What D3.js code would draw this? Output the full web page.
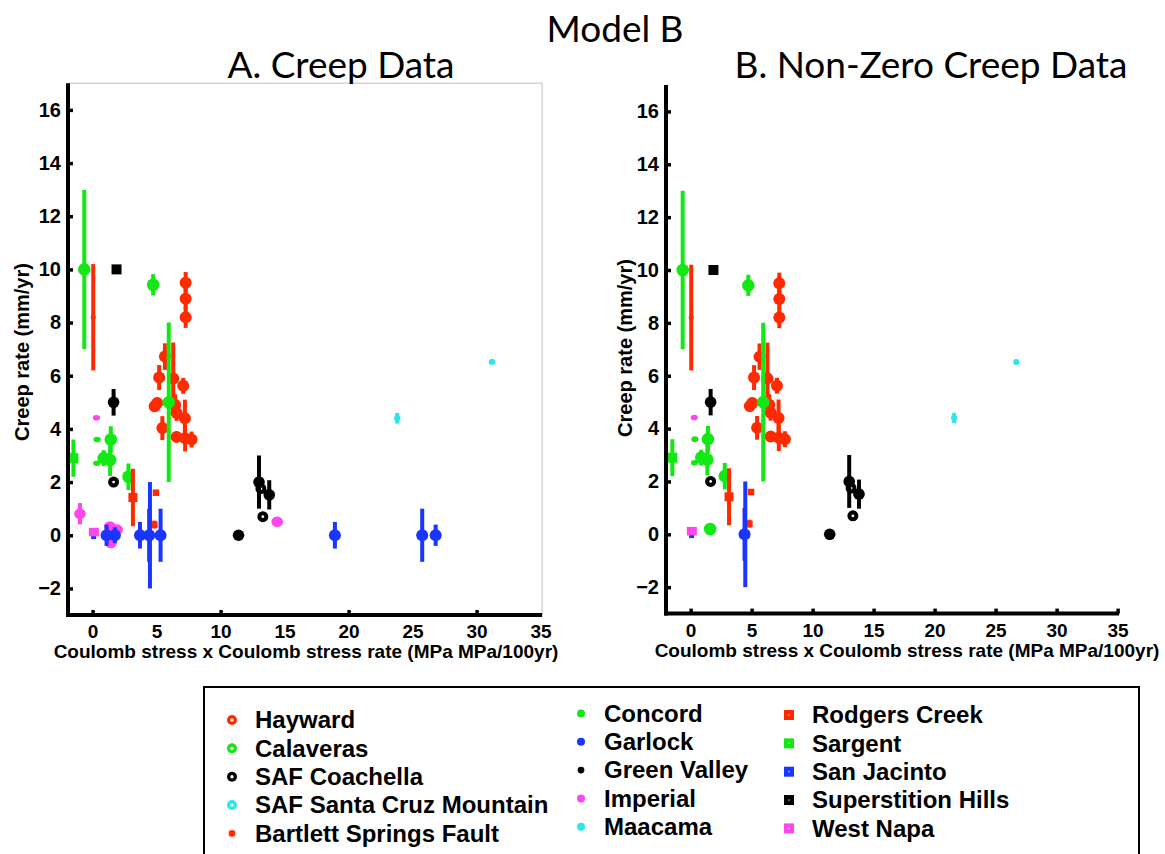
<!DOCTYPE html>
<html>
<head>
<meta charset="utf-8">
<script src="https://cdn.jsdelivr.net/npm/d3@7"></script>
<style>
  body { margin: 0; background: #fff; }
  svg text { font-family: "Liberation Sans", Arial, sans-serif; }
</style>
</head>
<body>
<svg id="chart" width="1165" height="854"></svg>
<script>
// ---- data: each entry is [coulomb stress x rate, creep rate (mm/yr), ± error] ----
const hayward = [
  [7.27, 9.5, 0.4], [7.27, 8.9, 0.4], [7.27, 8.2, 0.4],
  [5.65, 6.72, 0.5], [6.3, 5.9, 1.35], [5.2, 5.93, 0.47], [7.08, 5.62, 0.3],
  [4.85, 4.85, 0.2], [5.05, 4.97, 0.2], [6.45, 4.9, 0.4], [6.56, 4.6, 0.3],
  [7.21, 4.4, 0.7], [5.45, 4.03, 0.45], [6.56, 3.7, 0.2], [7.23, 3.65, 0.5], [7.73, 3.6, 0.3]
];
const calaveras = [
  [-0.65, 10.0, 3.0], [4.73, 9.42, 0.4], [5.95, 5.0, 3.0], [1.42, 3.6, 0.5],
  [0.87, 2.9, 0.3], [1.37, 2.83, 0.6], [2.8, 2.2, 0.5], [1.6, 0.2, 0]
];
const coachella = [[1.64, 2.0, 0], [13.15, 1.75, 0], [13.3, 0.7, 0]];
const bartlett = [[0.05, 8.2, 2.0]];
const concord = [[0.35, 3.6, 0], [0.32, 2.71, 0]];
const garlockA = [
  [1.09, 0, 0.4], [1.74, 0, 0.3], [3.7, 0, 0.5], [4.42, 0, 1.0], [5.31, 0, 1.0],
  [18.93, 0, 0.5], [25.75, 0, 1.0], [26.8, 0, 0.4]
];
const garlockB = [[4.42, 0, 1.0]];
const greenValley = [[1.64, 5.0, 0.5], [13.0, 2.0, 1.0], [13.8, 1.52, 0.55], [11.4, 0, 0]];
const imperialMinor = [[0.3, 4.42, 0]];
const imperialA = [[-0.99, 0.81, 0.4], [1.35, 0.33, 0], [1.43, -0.29, 0], [1.92, 0.21, 0], [14.42, 0.51, 0]];
const maacamaA = [[23.8, 4.4, 0.2], [31.2, 6.52, 0.1]];
const maacamaB = [[21.6, 4.4, 0.2], [26.7, 6.52, 0.1]];
const rodgersCreek = [[3.15, 1.42, 1.08]];
const rodgersMinor = [[4.95, 1.6, 0], [4.82, 0.4, 0.15]];
const sargent = [[-1.5, 2.9, 0.7]];
const sanJacintoMinor = [[0.08, -0.05, 0]];
const sanJacinto = [[4.48, 0, 2.0]];
const superstition = [[1.87, 10.0, 0]];
const westNapa = [[0.1, 0.12, 0]];

const xTickValues = [0, 5, 10, 15, 20, 25, 30, 35];
const yTickValues = [-2, 0, 2, 4, 6, 8, 10, 12, 14, 16];

const legendColumns = [
  ["Hayward", "Calaveras", "SAF Coachella", "SAF Santa Cruz Mountain", "Bartlett Springs Fault"],
  ["Concord", "Garlock", "Green Valley", "Imperial", "Maacama"],
  ["Rodgers Creek", "Sargent", "San Jacinto", "Superstition Hills", "West Napa"]
];

// ---- styles ----
const RED = "#ff2a00", GREEN = "#14e814", BLACK = "#000000",
      CYAN = "#2ae8ea", BLUE = "#1a35ff", MAGENTA = "#ff45ee";

const styles = {
  hayward:         { color: RED,     shape: "ring",   r: 6 },
  calaveras:       { color: GREEN,   shape: "ring",   r: 6.3 },
  coachella:       { color: BLACK,   shape: "ring",   r: 5.5, hole: true },
  bartlett:        { color: RED,     shape: "dot",    rx: 2.5, ry: 2.5 },
  concord:         { color: GREEN,   shape: "dot",    rx: 3.6, ry: 2.8 },
  garlock:         { color: BLUE,    shape: "dot",    rx: 6, ry: 6 },
  greenValley:     { color: BLACK,   shape: "dot",    rx: 5.8, ry: 5.8 },
  imperialMinor:   { color: MAGENTA, shape: "dot",    rx: 3.6, ry: 2.8 },
  imperial:        { color: MAGENTA, shape: "dot",    rx: 5.8, ry: 5.3 },
  maacama:         { color: CYAN,    shape: "dot",    rx: 3.2, ry: 2.8 },
  rodgersCreek:    { color: RED,     shape: "square", w: 9, h: 9 },
  rodgersMinor:    { color: RED,     shape: "square", w: 6.5, h: 6.5 },
  sargent:         { color: GREEN,   shape: "square", w: 10, h: 10 },
  sanJacinto:      { color: BLUE,    shape: "square", w: 8, h: 8 },
  sanJacintoMinor: { color: BLUE,    shape: "square", w: 5, h: 5 },
  superstition:    { color: BLACK,   shape: "square", w: 10, h: 10 },
  westNapa:        { color: MAGENTA, shape: "square", w: 10, h: 8.5 }
};

const legendMarkers = {
  "Hayward": ["ring", RED], "Calaveras": ["ring", GREEN], "SAF Coachella": ["ring", BLACK],
  "SAF Santa Cruz Mountain": ["ring", CYAN], "Bartlett Springs Fault": ["smalldot", RED],
  "Concord": ["dot", GREEN], "Garlock": ["dot", BLUE], "Green Valley": ["smalldot", BLACK],
  "Imperial": ["dot", MAGENTA], "Maacama": ["dot", CYAN],
  "Rodgers Creek": ["square", RED], "Sargent": ["square", GREEN], "San Jacinto": ["square", BLUE],
  "Superstition Hills": ["square", BLACK], "West Napa": ["square", MAGENTA]
};

const svg = d3.select("#chart");

function drawSeries(g, x, y, data, st) {
  const s = g.append("g");
  s.selectAll("line.err").data(data.filter(d => d[2] > 0)).join("line")
    .attr("x1", d => x(d[0])).attr("x2", d => x(d[0]))
    .attr("y1", d => y(d[1] + d[2])).attr("y2", d => y(d[1] - d[2]))
    .attr("stroke", st.color).attr("stroke-width", 4);
  if (st.shape === "ring") {
    s.selectAll("circle.m").data(data).join("circle")
      .attr("cx", d => x(d[0])).attr("cy", d => y(d[1])).attr("r", st.r).attr("fill", st.color);
    if (st.hole) {
      s.selectAll("circle.h").data(data.filter(d => !(d[2] > 0))).join("circle")
        .attr("cx", d => x(d[0])).attr("cy", d => y(d[1])).attr("r", 1.4).attr("fill", "#fff");
    }
  } else if (st.shape === "dot") {
    s.selectAll("ellipse").data(data).join("ellipse")
      .attr("cx", d => x(d[0])).attr("cy", d => y(d[1]))
      .attr("rx", st.rx).attr("ry", st.ry).attr("fill", st.color);
  } else {
    s.selectAll("rect").data(data).join("rect")
      .attr("x", d => x(d[0]) - st.w / 2).attr("y", d => y(d[1]) - st.h / 2)
      .attr("width", st.w).attr("height", st.h).attr("fill", st.color);
  }
}

function drawPanel(cfg) {
  const x = d3.scaleLinear().domain(cfg.xDomain).range(cfg.xRange);
  const y = d3.scaleLinear().domain([-3, 17]).range(cfg.yRange);
  const g = svg.append("g");
  const x0 = cfg.xRange[0] + 1, yb = cfg.yRange[0];

  if (cfg.frame) {
    g.append("path")
      .attr("d", `M${x0},${cfg.yRange[1]}H${cfg.xRange[1] + 1.5}V${yb}`)
      .attr("fill", "none").attr("stroke", "#d4d4d4").attr("stroke-width", 1.5);
  }

  // series
  cfg.series.forEach(([data, key]) => drawSeries(g, x, y, data, styles[key]));

  // y axis
  const ya = g.append("g").attr("transform", `translate(${x0},0)`)
    .call(d3.axisLeft(y).tickValues(yTickValues).tickSize(-5).tickSizeOuter(0).tickPadding(7)
      .tickFormat(d => d < 0 ? "\u2212" + Math.abs(d) : d));
  ya.select(".domain").remove();
  ya.selectAll(".tick line").attr("stroke", "#000").attr("stroke-width", 3.5);
  ya.selectAll(".tick text").attr("font-size", 20).attr("font-weight", "bold")
    .attr("fill", "#000").attr("font-family", "Liberation Sans, Arial, sans-serif");

  // x axis
  const xa = g.append("g").attr("transform", `translate(0,${yb})`)
    .call(d3.axisBottom(x).tickValues(xTickValues).tickSize(-5).tickSizeOuter(0).tickPadding(cfg.xPad));
  xa.select(".domain").remove();
  xa.selectAll(".tick line").attr("stroke", "#000").attr("stroke-width", 3.5)
    .attr("display", d => cfg.xTickLines.includes(d) ? null : "none");
  xa.selectAll(".tick text").attr("font-size", 19).attr("font-weight", "bold")
    .attr("fill", "#000").attr("font-family", "Liberation Sans, Arial, sans-serif");

  // axis lines
  g.append("line").attr("x1", x0).attr("x2", x0).attr("y1", cfg.yRange[1]).attr("y2", yb + 2)
    .attr("stroke", "#000").attr("stroke-width", 4);
  g.append("line").attr("x1", x0 - 2).attr("x2", cfg.xRange[1] + 1.5).attr("y1", yb).attr("y2", yb)
    .attr("stroke", "#000").attr("stroke-width", 4);

  // axis titles
  g.append("text").attr("x", cfg.xTitleX).attr("y", cfg.xTitleY).attr("text-anchor", "middle")
    .attr("font-size", 19).attr("font-weight", "bold")
    .text("Coulomb stress x Coulomb stress rate (MPa MPa/100yr)");
  g.append("text").attr("transform", `translate(${cfg.yTitleX},${cfg.yTitleY}) rotate(-90)`)
    .attr("text-anchor", "middle").attr("font-size", 20).attr("font-weight", "bold")
    .text("Creep rate (mm/yr)");
}

drawPanel({
  xDomain: [-2, 35], xRange: [67, 540.6], yRange: [615, 83.3], frame: true,
  xTickLines: [0, 10, 20, 30], xPad: 9.5,
  xTitleX: 306, xTitleY: 658, yTitleX: 29, yTitleY: 352,
  series: [
    [hayward, "hayward"], [calaveras, "calaveras"], [coachella, "coachella"],
    [bartlett, "bartlett"], [concord, "concord"], [greenValley, "greenValley"],
    [imperialMinor, "imperialMinor"], [imperialA, "imperial"], [garlockA, "garlock"],
    [maacamaA, "maacama"], [rodgersCreek, "rodgersCreek"], [rodgersMinor, "rodgersMinor"],
    [sargent, "sargent"], [sanJacintoMinor, "sanJacintoMinor"], [sanJacinto, "sanJacinto"],
    [superstition, "superstition"], [westNapa, "westNapa"]
  ]
});

drawPanel({
  xDomain: [-2.1, 35], xRange: [665, 1117.6], yRange: [613.6, 85], frame: false,
  xTickLines: xTickValues, xPad: 10,
  xTitleX: 907, xTitleY: 657, yTitleX: 632, yTitleY: 348,
  series: [
    [hayward, "hayward"], [calaveras, "calaveras"], [coachella, "coachella"],
    [bartlett, "bartlett"], [concord, "concord"], [greenValley, "greenValley"],
    [imperialMinor, "imperialMinor"], [garlockB, "garlock"],
    [maacamaB, "maacama"], [rodgersCreek, "rodgersCreek"], [rodgersMinor, "rodgersMinor"],
    [sargent, "sargent"], [sanJacintoMinor, "sanJacintoMinor"], [sanJacinto, "sanJacinto"],
    [superstition, "superstition"], [westNapa, "westNapa"]
  ]
});

// titles, sized to their set widths
function fitTitle(text, cx, baseline, width) {
  const t = svg.append("text").attr("x", cx).attr("y", baseline).attr("text-anchor", "middle")
    .attr("font-size", 40).attr("fill", "#000")
    .style("font-family", "Lato, 'Open Sans', sans-serif").text(text);
  const w = t.node().getComputedTextLength();
  t.attr("font-size", 40 * width / w);
}
fitTitle("Model B", 615, 42, 137);
fitTitle("A. Creep Data", 341, 78, 227);
fitTitle("B. Non-Zero Creep Data", 931, 78, 393);

// legend
const lg = svg.append("g");
lg.append("rect").attr("x", 204).attr("y", 687).attr("width", 935).attr("height", 220)
  .attr("fill", "#fff").attr("stroke", "#000").attr("stroke-width", 2);
const colMarkerX = [232, 581, 789], colTextX = [255, 604, 812], colBase = [728.3, 721.7, 723.3];
legendColumns.forEach((col, ci) => {
  col.forEach((label, ri) => {
    const by = colBase[ci] + ri * 28.35, my = by - 8.3, mx = colMarkerX[ci];
    const [shape, color] = legendMarkers[label];
    if (shape === "ring") {
      lg.append("circle").attr("cx", mx).attr("cy", my).attr("r", 5).attr("fill", color);
      lg.append("circle").attr("cx", mx).attr("cy", my).attr("r", 1.7).attr("fill", "#fff");
    } else if (shape === "dot") {
      lg.append("circle").attr("cx", mx).attr("cy", my).attr("r", 4).attr("fill", color);
    } else if (shape === "smalldot") {
      lg.append("circle").attr("cx", mx).attr("cy", my).attr("r", 3.4).attr("fill", color);
    } else {
      lg.append("rect").attr("x", mx - 5).attr("y", my - 5).attr("width", 10).attr("height", 10).attr("fill", color);
      lg.append("rect").attr("x", mx - 0.6).attr("y", my - 0.6).attr("width", 1.2).attr("height", 1.2).attr("fill", "#fff");
    }
    lg.append("text").attr("x", colTextX[ci]).attr("y", by)
      .attr("font-size", 24).attr("font-weight", "bold").text(label);
  });
});
</script>
</body>
</html>
